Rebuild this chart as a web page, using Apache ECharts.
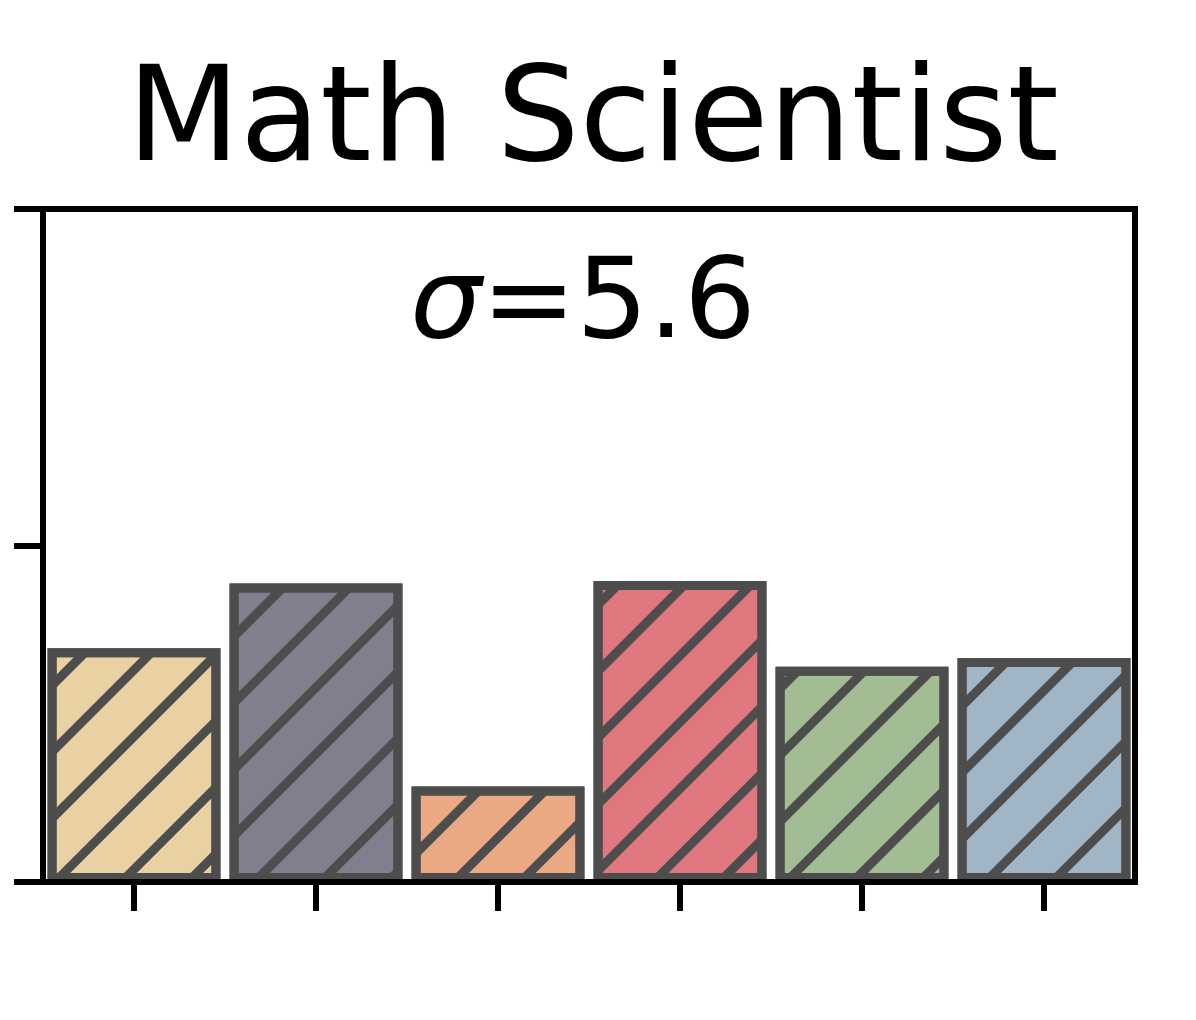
<!DOCTYPE html>
<html>
<head>
<meta charset="utf-8">
<script src="https://cdn.jsdelivr.net/npm/echarts@6/dist/echarts.min.js"></script>
<style>
  html, body { margin: 0; padding: 0; background: #fff; }
  #chart { width: 1196px; height: 1020px; }
</style>
</head>
<body>
<div id="chart"></div>
<script>
// data
const categories = ['A', 'B', 'C', 'D', 'E', 'F'];
const values = [19.1, 24.4, 7.8, 24.6, 17.6, 18.3];
const barColors = ['#E9D1A3', '#817F8E', '#EAA983', '#E0777F', '#A2BC93', '#A0B5C5'];
const yTicks = [0, 27.5, 55];
const titleText = 'Math Scientist';
const sigmaText = '5.6';

const chart = echarts.init(document.getElementById('chart'));

// "/" hatching on every bar
const hatch = {
    symbol: 'rect',
    symbolSize: 1,
    color: '#4d4d4d',
    dashArrayX: [1, 0],
    dashArrayY: [9, 38],
    rotation: -Math.PI / 4
};

const option = {
    animation: false,
    title: [
        {
            text: titleText,
            left: 588,
            textAlign: 'center',
            top: 55,
            textStyle: {
                fontFamily: 'DejaVu Sans',
                fontWeight: 'normal',
                fontSize: 131,
                color: '#000'
            }
        },
        {
            text: '{i|σ}=' + sigmaText,
            left: 578,
            textAlign: 'center',
            top: 246,
            textStyle: {
                fontFamily: 'DejaVu Sans',
                fontWeight: 'normal',
                fontSize: 113,
                color: '#000',
                rich: {
                    i: {
                        fontFamily: 'DejaVu Sans',
                        fontStyle: 'italic',
                        fontSize: 113,
                        color: '#000'
                    }
                }
            }
        }
    ],
    grid: {
        left: 43,
        right: 61,
        top: 209,
        bottom: 138,
        show: true,
        borderColor: '#000',
        borderWidth: 6,
        backgroundColor: 'transparent'
    },
    xAxis: {
        type: 'category',
        data: categories,
        z: 5,
        axisLine: { lineStyle: { color: '#000', width: 6 } },
        axisTick: {
            show: true,
            interval: 0,
            alignWithLabel: true,
            length: 29,
            lineStyle: { color: '#000', width: 6 }
        },
        axisLabel: { show: false }
    },
    yAxis: {
        type: 'value',
        min: yTicks[0],
        max: yTicks[yTicks.length - 1],
        interval: yTicks[1] - yTicks[0],
        axisLine: { show: true, lineStyle: { color: '#000', width: 6 } },
        axisTick: { show: true, length: 29, lineStyle: { color: '#000', width: 6 } },
        axisLabel: { show: false },
        splitLine: { show: false }
    },
    series: [{
        type: 'bar',
        barWidth: '95%',
        data: values.map((v, i) => ({
            value: v,
            itemStyle: {
                color: barColors[i],
                borderColor: '#4d4d4d',
                borderWidth: 9,
                decal: hatch
            }
        }))
    }]
};

chart.setOption(option);
</script>
</body>
</html>
